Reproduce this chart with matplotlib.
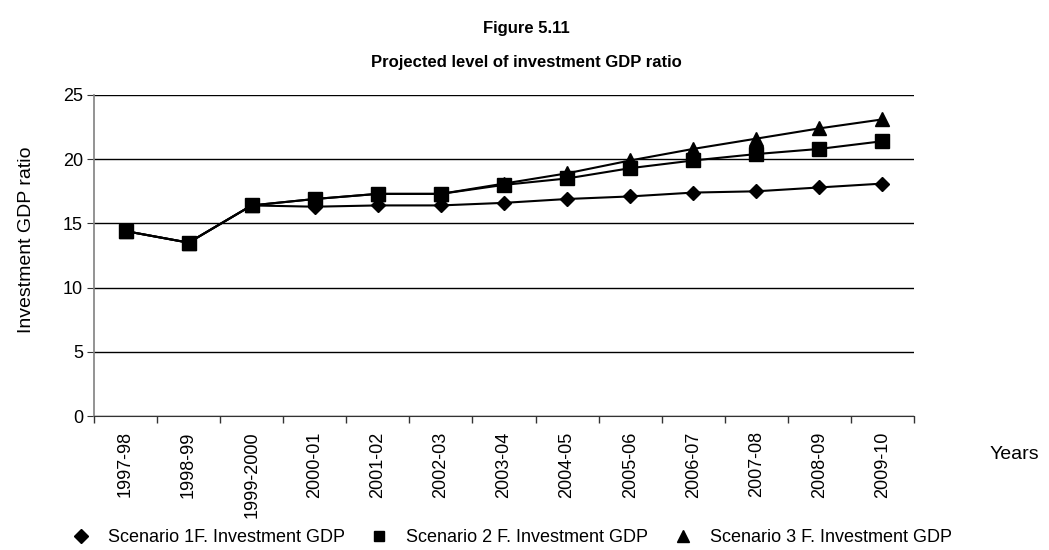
import matplotlib.pyplot as plt
from matplotlib.lines import Line2D

plt.rcParams['font.family'] = ['Liberation Sans', 'DejaVu Sans']

years = ['1997-98', '1998-99', '1999-2000', '2000-01', '2001-02', '2002-03',
         '2003-04', '2004-05', '2005-06', '2006-07', '2007-08', '2008-09', '2009-10']

# investment / GDP ratio under each projection scenario
scenario1 = [14.4, 13.5, 16.4, 16.3, 16.4, 16.4, 16.6, 16.9, 17.1, 17.4, 17.5, 17.8, 18.1]
scenario2 = [14.4, 13.5, 16.4, 16.9, 17.3, 17.3, 18.0, 18.5, 19.3, 19.9, 20.4, 20.8, 21.4]
scenario3 = [14.4, 13.5, 16.4, 16.9, 17.3, 17.3, 18.1, 18.9, 19.9, 20.8, 21.6, 22.4, 23.1]

labels = ['Scenario 1F. Investment GDP', 'Scenario 2 F. Investment GDP',
          'Scenario 3 F. Investment GDP']

fig = plt.figure(figsize=(10.49, 5.5), dpi=100)
ax = fig.add_axes([0.0896, 0.2436, 0.7817, 0.5837])

x = list(range(len(years)))
ax.plot(x, scenario3, color='black', lw=1.5, marker='^', ms=9.5, zorder=3)
ax.plot(x, scenario2, color='black', lw=1.5, marker='s', ms=9.5, zorder=4)
ax.plot(x, scenario1, color='black', lw=1.5, marker='D', ms=7, zorder=5)

ax.set_xlim(-0.5, len(years) - 0.5)
ax.set_ylim(0, 25)
ax.set_yticks([0, 5, 10, 15, 20, 25])
# category boundaries get the tick marks, category centres get the labels
ax.set_xticks([i - 0.5 for i in range(len(years) + 1)])
ax.set_xticklabels([])
ax.set_xticks(x, minor=True)
ax.set_xticklabels(years, minor=True, rotation=90, fontsize=13)
ax.tick_params(axis='x', which='minor', length=0, pad=11)
ax.tick_params(axis='x', which='major', length=5, direction='out', width=1, color='#333333')
ax.tick_params(axis='y', length=5, direction='out', labelsize=13, pad=3, color='#333333')

ax.grid(axis='y', color='black', lw=1)
ax.set_axisbelow(True)
for side in ['top', 'right']:
    ax.spines[side].set_visible(False)
ax.spines['left'].set_color('#808080')
ax.spines['left'].set_linewidth(1.2)
ax.spines['bottom'].set_color('#333333')

fig.text(0.0257, 0.565, 'Investment GDP ratio', fontsize=14, rotation=90,
         ha='center', va='center')
fig.text(0.967, 0.173, 'Years', fontsize=14, ha='center', va='center')

fig.text(0.502, 0.949, 'Figure 5.11', fontsize=12, fontweight='bold', ha='center', va='center')
fig.text(0.502, 0.887, 'Projected level of investment GDP ratio', fontsize=12,
         fontweight='bold', ha='center', va='center')

handles = [Line2D([], [], ls='none', marker=m, color='black', ms=s)
           for m, s in [('D', 7), ('s', 7), ('^', 8)]]
fig.legend(handles, labels, loc='center', bbox_to_anchor=(0.488, 0.022), ncol=3,
           frameon=False, fontsize=13, handlelength=1.0, handletextpad=1.0,
           columnspacing=1.4, borderaxespad=0)

fig.savefig('out.png', dpi=100)
